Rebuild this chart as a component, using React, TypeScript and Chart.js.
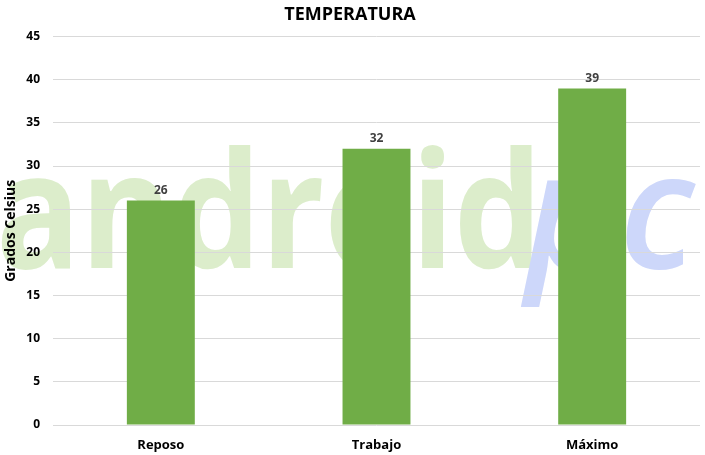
import React, { useEffect, useRef } from "react";
import { Chart, registerables } from "chart.js";

Chart.register(...registerables);

const categories = ["Reposo", "Trabajo", "Máximo"];
const values = [26, 32, 39];
const chartTitle = "TEMPERATURA";
const yTitle = "Grados Celsius";
const yMin = 0;
const yMax = 45;
const yStep = 5;

const FONT = "'Open Sans', 'Liberation Sans', sans-serif";

const watermarkPlugin = {
  id: "watermark",
  beforeDraw(chart: any) {
    const { ctx, width, height } = chart;
    ctx.save();
    ctx.fillStyle = "#ffffff";
    ctx.fillRect(0, 0, width, height);
    const baseline = height * 0.589;
    ctx.textBaseline = "alphabetic";
    // "android" part
    ctx.font = `bold 150px ${FONT}`;
    ctx.fillStyle = "#dcedcb";
    const w1 = ctx.measureText("android").width;
    const target1 = width * 0.775;
    ctx.save();
    ctx.translate(-4, baseline);
    ctx.scale(target1 / w1, 1.08);
    ctx.fillText("android", 0, 0);
    ctx.restore();
    // "pc" part
    ctx.font = `italic 600 150px ${FONT}`;
    ctx.fillStyle = "#cdd7fa";
    const w2 = ctx.measureText("pc").width;
    const target2 = width * 0.24;
    ctx.save();
    ctx.translate(width * 0.745, baseline);
    ctx.scale(target2 / w2, 1.08);
    ctx.fillText("pc", 0, 0);
    ctx.restore();
    ctx.restore();
  },
};

const labelPlugin = {
  id: "barLabels",
  afterDatasetsDraw(chart: any) {
    const { ctx } = chart;
    const meta = chart.getDatasetMeta(0);
    ctx.save();
    ctx.font = `bold 12px ${FONT}`;
    ctx.fillStyle = "#404040";
    ctx.textAlign = "center";
    ctx.textBaseline = "bottom";
    meta.data.forEach((bar: any, i: number) => {
      ctx.fillText(String(values[i]), bar.x, bar.y - 4);
    });
    ctx.restore();
  },
};

export default function App() {
  const ref = useRef<HTMLCanvasElement>(null);
  useEffect(() => {
    document.body.style.margin = "0";
    const chart = new Chart(ref.current!, {
      type: "bar",
      data: {
        labels: categories,
        datasets: [
          {
            data: values,
            backgroundColor: "#70ad47",
            categoryPercentage: 1,
            barPercentage: 0.315,
          },
        ],
      },
      options: {
        animation: false,
        responsive: false,
        maintainAspectRatio: false,
        layout: { padding: { left: 0, right: 5, top: 0, bottom: 0 } },
        plugins: {
          legend: { display: false },
          tooltip: { enabled: false },
          title: {
            display: true,
            text: chartTitle,
            color: "#000000",
            font: { family: FONT, size: 18, weight: "bold", lineHeight: 1.2 },
            padding: { top: 4, bottom: 11 },
          },
        },
        scales: {
          x: {
            grid: { display: false, drawTicks: false },
            border: { display: false },
            ticks: {
              color: "#000000",
              font: { family: FONT, size: 13, weight: "bold" },
              padding: 12,
            },
            afterFit(scale: any) {
              scale.height = 30;
            },
          },
          y: {
            min: yMin,
            max: yMax,
            grid: { color: "#d9d9d9", lineWidth: 1, drawTicks: false },
            border: { display: false },
            ticks: {
              stepSize: yStep,
              color: "#000000",
              font: { family: FONT, size: 12, weight: "bold" },
              padding: 13,
            },
            title: {
              display: true,
              text: yTitle,
              color: "#000000",
              font: { family: FONT, size: 14, weight: "bold" },
              padding: { top: 3, bottom: 2 },
            },
            afterFit(scale: any) {
              scale.width = 53;
            },
          },
        },
      },
      plugins: [watermarkPlugin, labelPlugin],
    } as any);
    return () => chart.destroy();
  }, []);
  return (
    <div style={{ position: "fixed", left: 0, top: 0, width: 705, height: 455 }}>
      <canvas ref={ref} width={705} height={455} style={{ width: 705, height: 455 }} />
    </div>
  );
}
